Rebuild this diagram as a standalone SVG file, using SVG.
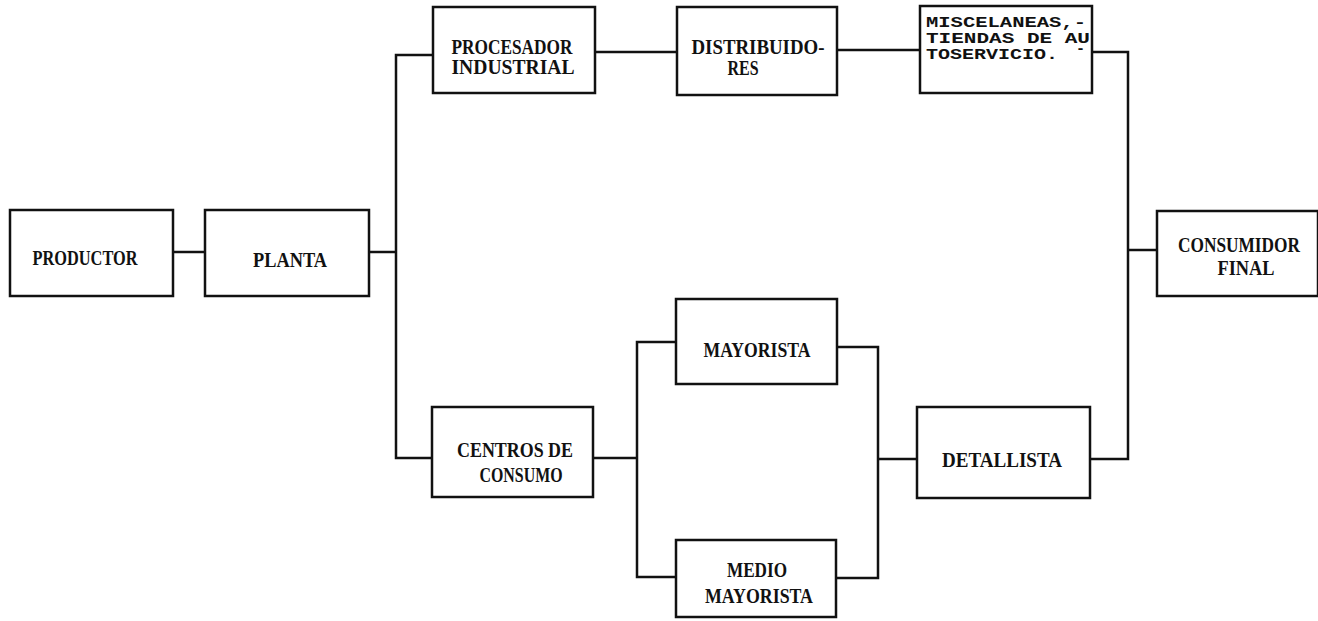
<svg xmlns="http://www.w3.org/2000/svg" width="1318" height="621" viewBox="0 0 1318 621">
<style>
.box{fill:#fff;stroke:#111;stroke-width:2.5}
.ln{fill:none;stroke:#111;stroke-width:2.5;stroke-linejoin:miter}
.t{font-family:"Liberation Serif","Times New Roman",serif;font-size:20px;font-weight:bold;fill:#111;text-anchor:middle}
.m{font-family:"Liberation Mono","Courier New",monospace;font-size:15px;font-weight:bold;fill:#111}
</style>
<rect width="1318" height="621" fill="#fff"/>
<g id="connectors">
<line class="ln" x1="173" y1="252" x2="205" y2="252"/>
<line class="ln" x1="369" y1="252" x2="396" y2="252"/>
<polyline class="ln" points="433,55 396,55 396,458 432,458"/>
<line class="ln" x1="595" y1="52" x2="677" y2="52"/>
<line class="ln" x1="837" y1="50" x2="920" y2="50"/>
<polyline class="ln" points="1092,52 1128,52 1128,459 1090,459"/>
<line class="ln" x1="1128" y1="250" x2="1157" y2="250"/>
<line class="ln" x1="593" y1="458" x2="637" y2="458"/>
<polyline class="ln" points="676,342 637,342 637,577 676,577"/>
<polyline class="ln" points="837,347 878,347 878,578 836,578"/>
<line class="ln" x1="878" y1="459" x2="917" y2="459"/>
</g>
<g id="productor">
<rect class="box" x="10" y="210" width="163" height="86"/>
<text class="t" x="85" y="265" textLength="105" lengthAdjust="spacingAndGlyphs">PRODUCTOR</text>
</g>
<g id="planta">
<rect class="box" x="205" y="210" width="164" height="86"/>
<text class="t" x="290" y="267" textLength="74" lengthAdjust="spacingAndGlyphs">PLANTA</text>
</g>
<g id="procesador">
<rect class="box" x="433" y="7" width="162" height="86"/>
<text class="t" x="512" y="54" textLength="121" lengthAdjust="spacingAndGlyphs">PROCESADOR</text>
<text class="t" x="513" y="74" textLength="123" lengthAdjust="spacingAndGlyphs">INDUSTRIAL</text>
</g>
<g id="distribuidores">
<rect class="box" x="677" y="7" width="160" height="88"/>
<text class="t" x="758" y="54" textLength="133" lengthAdjust="spacingAndGlyphs">DISTRIBUIDO-</text>
<text class="t" x="743" y="75" textLength="31" lengthAdjust="spacingAndGlyphs">RES</text>
</g>
<g id="miscelaneas">
<rect class="box" x="920" y="6" width="172" height="87"/>
<text class="m" x="926" y="27" textLength="160" lengthAdjust="spacingAndGlyphs">MISCELANEAS,-</text>
<text class="m" x="926" y="43" textLength="164" lengthAdjust="spacingAndGlyphs">TIENDAS DE AU</text>
<text class="m" x="926" y="59"><tspan textLength="132" lengthAdjust="spacingAndGlyphs">TOSERVICIO.</tspan><tspan x="1076" y="53">-</tspan></text>
</g>
<g id="consumidor">
<rect class="box" x="1157" y="211" width="161" height="85"/>
<text class="t" x="1239" y="252" textLength="122" lengthAdjust="spacingAndGlyphs">CONSUMIDOR</text>
<text class="t" x="1246" y="275" textLength="57" lengthAdjust="spacingAndGlyphs">FINAL</text>
</g>
<g id="centros">
<rect class="box" x="432" y="407" width="161" height="90"/>
<text class="t" x="515" y="457" textLength="116" lengthAdjust="spacingAndGlyphs">CENTROS DE</text>
<text class="t" x="521" y="482" textLength="83" lengthAdjust="spacingAndGlyphs">CONSUMO</text>
</g>
<g id="mayorista">
<rect class="box" x="676" y="299" width="161" height="85"/>
<text class="t" x="757" y="357" textLength="107" lengthAdjust="spacingAndGlyphs">MAYORISTA</text>
</g>
<g id="medio-mayorista">
<rect class="box" x="676" y="540" width="160" height="77"/>
<text class="t" x="757" y="577" textLength="60" lengthAdjust="spacingAndGlyphs">MEDIO</text>
<text class="t" x="759" y="603" textLength="108" lengthAdjust="spacingAndGlyphs">MAYORISTA</text>
</g>
<g id="detallista">
<rect class="box" x="917" y="407" width="173" height="91"/>
<text class="t" x="1002" y="467" textLength="120" lengthAdjust="spacingAndGlyphs">DETALLISTA</text>
</g>
</svg>
